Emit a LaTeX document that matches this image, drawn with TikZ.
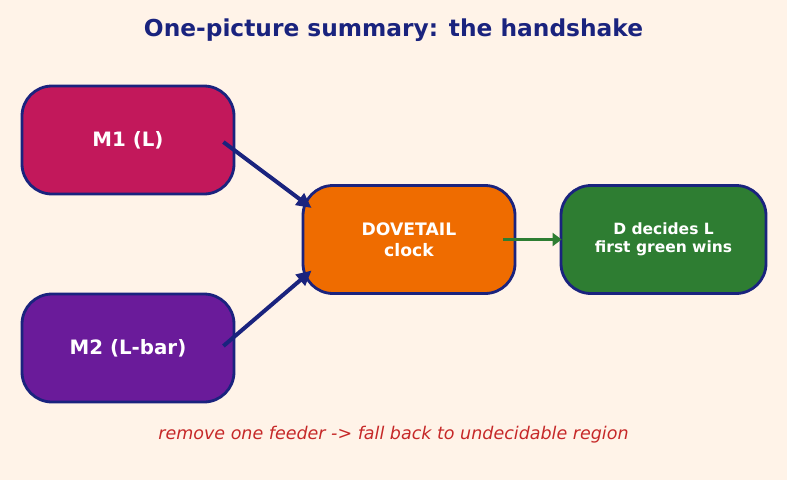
\documentclass[tikz,border=0pt]{standalone}
\usepackage{fontspec}
\setmainfont{DejaVu Sans}
\usetikzlibrary{arrows.meta}
\usetikzlibrary{calc}
\definecolor{bgcream}{HTML}{FFF3E8}
\definecolor{navy}{HTML}{1A237E}
\definecolor{berry}{HTML}{C2185B}
\definecolor{grape}{HTML}{6A1B9A}
\definecolor{tangerine}{HTML}{EF6C00}
\definecolor{leaf}{HTML}{2E7D32}
\definecolor{alarm}{HTML}{C62828}
\tikzset{box/.style = {draw = navy, line width = 2.8pt, rounded corners = 30pt, minimum width = 212pt, minimum height = 108pt, text = white, align = center, font = \bfseries\fontsize{19.8}{23}\selectfont}}
\tikzset{feed/.style = {draw = navy, line width = 4pt, -{Triangle[length = 15pt, width = 14pt]}}}

\begin{document}
\begin{tikzpicture}[x = 1pt, y = -1pt]
    \fill [bgcream] (0, 0) rectangle (787, 480);
    \useasboundingbox (0, 0) rectangle (787, 480);

    \node (title) [text = navy, font = \bfseries\fontsize{23.3}{27}\selectfont] at (393.5, 30) {One-picture summary: the handshake};

    \node (m1) [box, fill = berry] at (128, 140) {M1 (L)};
    \node (m2) [box, fill = grape] at (128, 348) {M2 (L-bar)};
    \node (clock) [box, fill = tangerine, font = \bfseries\fontsize{17.2}{21}\selectfont] at (409, 239.5) {DOVETAIL\\clock};
    \node (decide) [box, fill = leaf, minimum width = 205pt, font = \bfseries\fontsize{15.5}{18}\selectfont] at (663.5, 239.5) {D decides L\\first green wins};

    \draw [feed] ($(m1.east) + (-12, 2)$) -- ($(clock.west) + (10, -31.5)$);
    \draw [feed] ($(m2.east) + (-12, -2)$) -- ($(clock.west) + (10, 31)$);
    \draw [leaf, line width = 3.6pt, -{Triangle[length = 9pt, width = 13pt]}] ($(clock.east) + (-13, 0)$) -- ($(decide.west) + (2, 0)$);

    \node (note) [text = alarm, font = \itshape\fontsize{17.5}{21}\selectfont] at (393.5, 435) {remove one feeder -> fall back to undecidable region};
  \end{tikzpicture}
\end{document}
